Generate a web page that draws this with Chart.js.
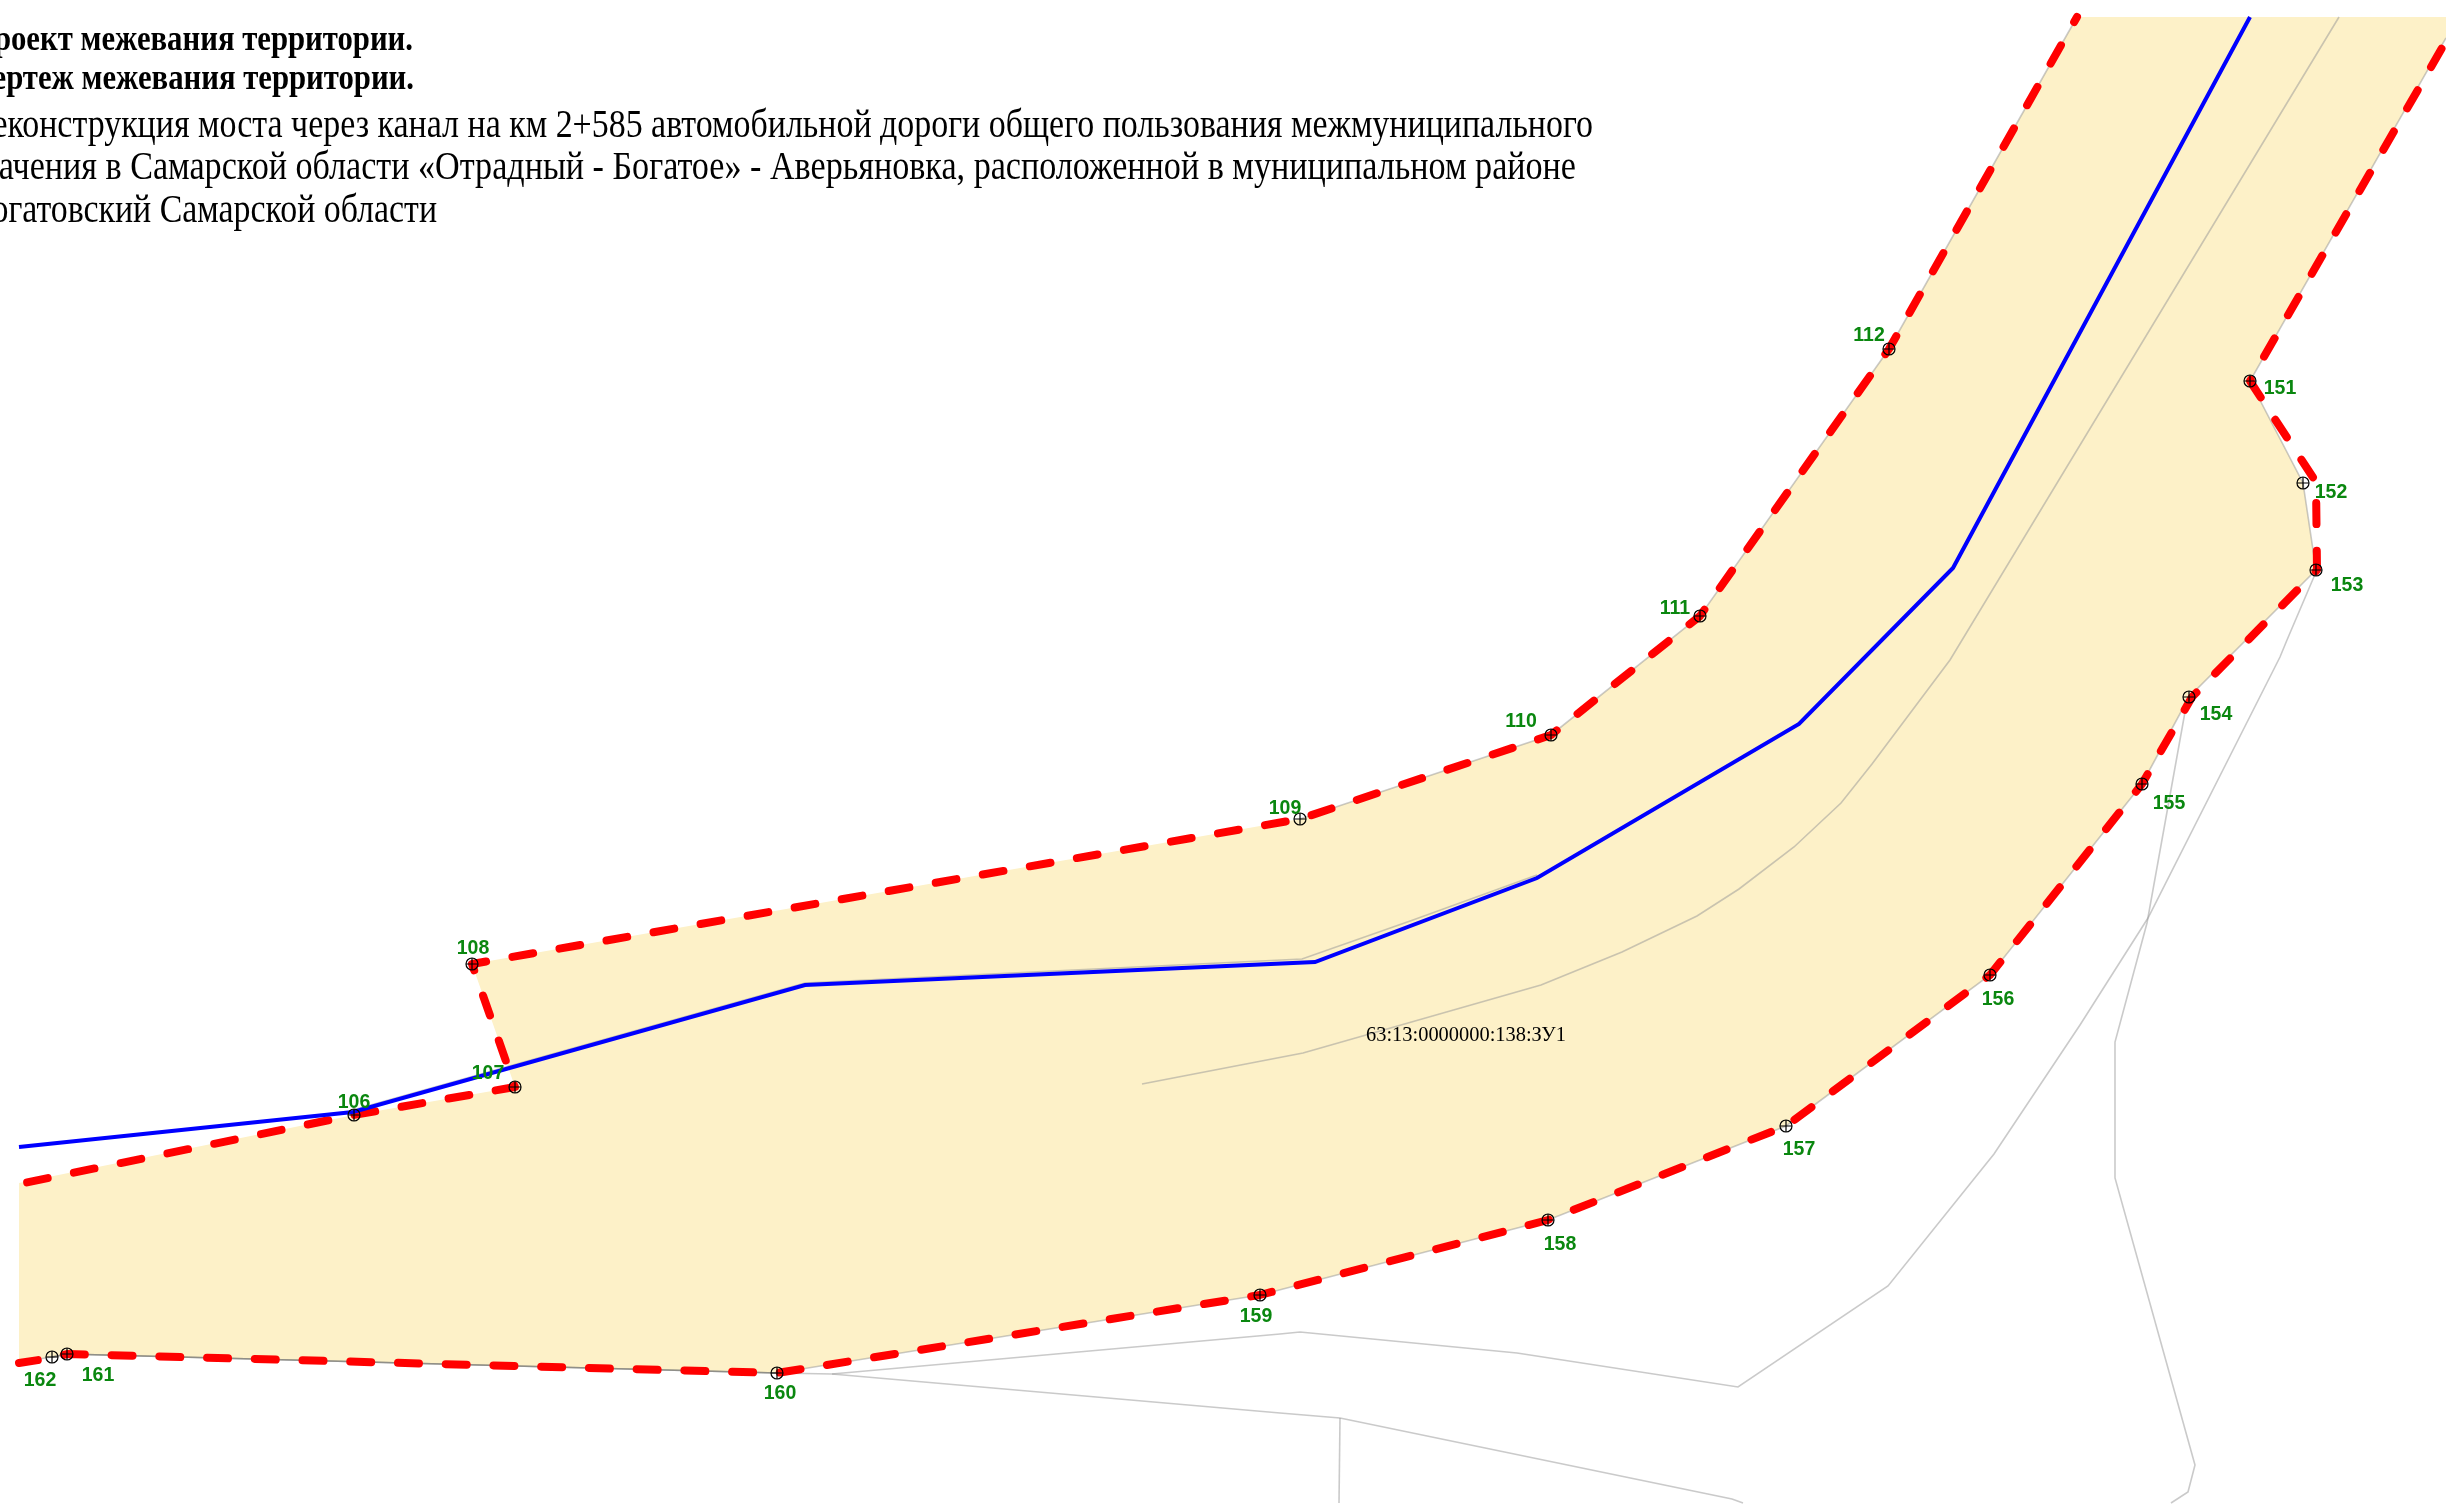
<!DOCTYPE html>
<html lang="ru">
<head>
<meta charset="utf-8">
<title>Чертеж межевания территории</title>
<script src="https://cdn.jsdelivr.net/npm/chart.js@4"></script>
<style>
    html, body { margin: 0; padding: 0; background: #fff; overflow: hidden; }
    canvas { display: block; }
</style>
</head>
<body>
<canvas id="plan" width="2446" height="1506"></canvas>
<script>
// Parcel outline, plan coordinates
const parcelX = [19, 354, 515, 472, 1300, 1551, 1700, 1889, 2077, 2446, 2446, 2250, 2303, 2316, 2189, 2142, 1990, 1786, 1548, 1260, 777, 67, 52, 19];
const parcelY = [1183, 1115, 1087, 964, 819, 735, 616, 349, 17, 17, 38, 381, 483, 570, 697, 784, 975, 1126, 1220, 1295, 1373, 1354, 1357, 1362];

// Red dashed border, upper and lower run
const redUpperX = [19, 354, 515, 472, 1300, 1551, 1700, 1889, 2077];
const redUpperY = [1184, 1115, 1087, 964, 819, 735, 616, 349, 17];
const redLowerX = [19, 52, 67, 777, 1260, 1548, 1786, 1990, 2142, 2192, 2317, 2316, 2250, 2446];
const redLowerY = [1363, 1358, 1354, 1373, 1295, 1220, 1126, 975, 784, 697, 570, 482, 381, 41];

// Blue line
const blueX = [19, 353, 805, 1315, 1537, 1799, 1953, 2250];
const blueY = [1147, 1112, 985, 962, 878, 724, 568, 17];

// Thin grey lines
const edgeUpperX = [1300, 1551, 1700, 1889, 2077];
const edgeUpperY = [819, 735, 616, 349, 17];
const edgeLowerX = [2446, 2250, 2303, 2316, 2189, 2142, 1990, 1786, 1548, 1260, 777, 67, 52, 19];
const edgeLowerY = [38, 381, 483, 570, 697, 784, 975, 1126, 1220, 1295, 1373, 1354, 1357, 1362];
const centerX = [2339, 1950, 1872, 1841, 1794, 1739, 1697, 1622, 1541, 1303, 1142];
const centerY = [17, 660, 764, 803, 847, 889, 916, 952, 985, 1053, 1084];
const oldRoadX = [353, 474, 805, 1302, 1413, 1537];
const oldRoadY = [1110, 1076, 983, 959, 920, 875];
const fieldAX = [2316, 2287, 2280, 2148, 2080, 1994, 1888, 1738, 1517, 1300, 1280, 832, 777];
const fieldAY = [572, 640, 657, 918, 1025, 1154, 1286, 1387, 1353, 1332, 1334, 1374, 1373];
const fieldBX = [2185, 2147, 2115, 2115, 2195, 2188, 2171];
const fieldBY = [712, 923, 1042, 1178, 1465, 1492, 1503];
const fieldCX = [832, 1280, 1340, 1732, 1743];
const fieldCY = [1374, 1413, 1418, 1499, 1503];
const fieldDX = [1340, 1339];
const fieldDY = [1418, 1503];
const darkEdgeX = [777, 67, 52];
const darkEdgeY = [1373, 1354, 1357];

// Numbered survey points
const pointNames = ['106', '107', '108', '109', '110', '111', '112', '151', '152', '153', '154', '155', '156', '157', '158', '159', '160', '161', '162'];
const pointX = [354, 515, 472, 1300, 1551, 1700, 1889, 2250, 2303, 2316, 2189, 2142, 1990, 1786, 1548, 1260, 777, 67, 52];
const pointY = [1115, 1087, 964, 819, 735, 616, 349, 381, 483, 570, 697, 784, 975, 1126, 1220, 1295, 1373, 1354, 1357];

// Label offset from its point, px
const labelDX = [0, -27, 1, -15, -30, -25, -20, 30, 28, 31, 27, 27, 8, 13, 12, -4, 3, 31, -12];
const labelDY = [-12, -13, -15, -10, -13, -7, -13, 8, 10, 16, 18, 20, 25, 24, 25, 22, 21, 22, 24];

const headingLines = ['Проект межевания территории.', 'Чертеж межевания территории.'];
const headingLeft = [-30, -30];
const headingBase = [49.5, 88.5];
const headingRight = [413, 414];
const bodyLines = [
    'Реконструкция моста через канал на км 2+585 автомобильной дороги общего пользования межмуниципального',
    'значения в Самарской области «Отрадный - Богатое» - Аверьяновка, расположенной в муниципальном районе',
    'Богатовский Самарской области'
];
const bodyLeft = [-26, -33, -28];
const bodyBase = [136.5, 178.5, 221.5];
const bodyRight = [1593, 1576, 437];
const parcelName = '63:13:0000000:138:ЗУ1';

function zip(xs, ys) {
    return xs.map((x, i) => ({ x: x, y: ys[i] }));
}

function thinLine(xs, ys, color) {
    return {
        data: zip(xs, ys),
        showLine: true,
        borderColor: color || 'rgba(150,150,150,0.5)',
        borderWidth: 1.6,
        pointRadius: 0,
        order: 9
    };
}

function redLine(xs, ys, offset) {
    return {
        data: zip(xs, ys),
        showLine: true,
        borderColor: '#ff0000',
        borderWidth: 8,
        borderCapStyle: 'round',
        borderJoinStyle: 'round',
        borderDash: [21, 26.75],
        borderDashOffset: offset,
        pointRadius: 0,
        order: 6
    };
}

const labelsPlugin = {
    id: 'planText',
    afterDatasetsDraw(chart) {
        const ctx = chart.ctx;
        const sx = chart.scales.x;
        const sy = chart.scales.y;
        ctx.save();

        ctx.font = 'bold 19.5px "Liberation Sans"';
        ctx.fillStyle = '#0a870f';
        ctx.textAlign = 'center';
        ctx.textBaseline = 'middle';
        pointNames.forEach((name, i) => {
            ctx.fillText(name, sx.getPixelForValue(pointX[i]) + labelDX[i], sy.getPixelForValue(pointY[i]) + labelDY[i]);
        });

        ctx.textAlign = 'left';
        ctx.textBaseline = 'alphabetic';
        ctx.fillStyle = '#000';
        ctx.font = '21.5px "Liberation Serif"';
        ctx.fillText(parcelName, 1366, 1041, 200);

        ctx.font = 'bold 35px "Liberation Serif"';
        headingLines.forEach((line, i) => {
            ctx.fillText(line, headingLeft[i], headingBase[i], headingRight[i] - headingLeft[i]);
        });
        ctx.font = '39px "Liberation Serif"';
        bodyLines.forEach((line, i) => {
            ctx.fillText(line, bodyLeft[i], bodyBase[i], bodyRight[i] - bodyLeft[i]);
        });
        ctx.restore();
    }
};

new Chart(document.getElementById('plan'), {
    type: 'scatter',
    data: {
        datasets: [
            {
                data: zip(parcelX, parcelY),
                showLine: true,
                fill: 'shape',
                backgroundColor: '#fdf1c8',
                borderWidth: 0,
                pointRadius: 0,
                order: 10
            },
            thinLine(centerX, centerY),
            thinLine(oldRoadX, oldRoadY),
            thinLine(edgeUpperX, edgeUpperY),
            thinLine(edgeLowerX, edgeLowerY),
            thinLine(fieldAX, fieldAY),
            thinLine(fieldBX, fieldBY),
            thinLine(fieldCX, fieldCY),
            thinLine(fieldDX, fieldDY),
            thinLine(darkEdgeX, darkEdgeY, 'rgba(90,90,80,0.7)'),
            redLine(redUpperX, redUpperY, 39.45),
            redLine(redLowerX, redLowerY, 2),
            {
                data: zip(blueX, blueY),
                showLine: true,
                borderColor: '#0000ff',
                borderWidth: 4,
                pointRadius: 0,
                order: 5
            },
            {
                data: zip(pointX, pointY),
                pointStyle: 'circle',
                pointRadius: 6,
                pointBackgroundColor: 'transparent',
                pointBorderColor: '#000',
                pointBorderWidth: 1.2,
                order: 4
            },
            {
                data: zip(pointX, pointY),
                pointStyle: 'cross',
                pointRadius: 6,
                pointBorderColor: '#000',
                pointBorderWidth: 1.2,
                order: 3
            }
        ]
    },
    options: {
        responsive: false,
        animation: false,
        devicePixelRatio: 1,
        layout: { padding: 0, autoPadding: false },
        plugins: {
            legend: { display: false },
            tooltip: { enabled: false },
            title: { display: false }
        },
        scales: {
            x: { type: 'linear', min: 0, max: 2446, display: false },
            y: { type: 'linear', min: 0, max: 1506, reverse: true, display: false }
        }
    },
    plugins: [labelsPlugin]
});
</script>
</body>
</html>
